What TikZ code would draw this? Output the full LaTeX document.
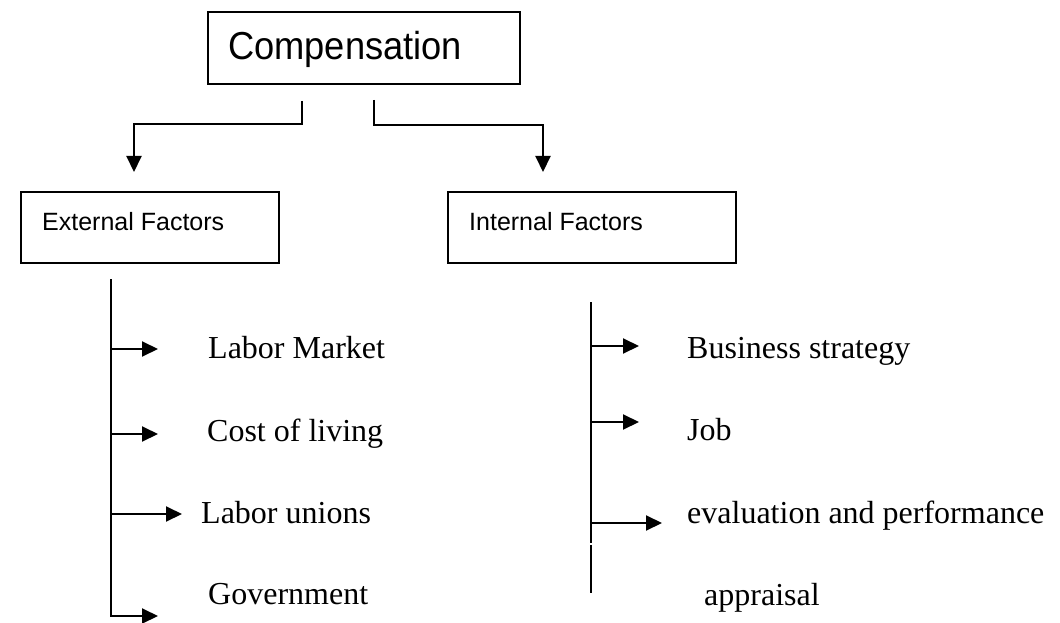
\documentclass[tikz,border=0pt]{standalone}
\usepackage{fontspec}
\setmainfont{Liberation Serif}
\newfontfamily\arialf{Liberation Sans}
\newfontfamily\arialn[FakeStretch=0.93]{Liberation Sans}
\usetikzlibrary{arrows.meta}

\tikzset{
    caja/.style={draw, line width=1.7pt, rectangle, inner sep=0pt, anchor=north west},
    linea/.style={line width=2pt},
    flecha/.style={line width=2pt, -{Triangle[length=16pt,width=15pt]}},
    titulo/.style={font=\arialn\fontsize{39}{46}\selectfont, anchor=base west, inner sep=0pt},
    factor/.style={font=\arialf\fontsize{25}{30}\selectfont, anchor=base west, inner sep=0pt},
    elemento/.style={font=\fontsize{32}{38}\selectfont, anchor=base west, inner sep=0pt}
}

\begin{document}
\begin{tikzpicture}[x=1pt, y=-1pt]
        % Fija el marco del dibujo.
        \useasboundingbox (0,0) rectangle (1060,623);

        % Dibuja la caja principal.
        \node[caja, minimum width=312pt, minimum height=72pt] (comp) at (207,11) {};
        \node[titulo] (compT) at ([shift={(21,49)}]comp.north west) {Compensation};

        % Dibuja las cajas de factores externos e internos.
        \node[caja, minimum width=258pt, minimum height=71pt] (ext) at (20,191) {};
        \node[factor] (extT) at ([shift={(22,39)}]ext.north west) {External Factors};
        \node[caja, minimum width=288pt, minimum height=71pt] (int) at (447,191) {};
        \node[factor] (intT) at ([shift={(22,39)}]int.north west) {Internal Factors};

        % Une la caja principal con las dos ramas.
        \coordinate (izq) at (302,101);
        \coordinate (izqF) at (134,172);
        \coordinate (der) at (374,100);
        \coordinate (derF) at (543,172);
        \draw[flecha] (izq) -- ++(0,23) -| (izqF);
        \draw[flecha] (der) -- ++(0,25) -| (derF);

        % Lista de factores externos.
        \coordinate (e0) at (111,279);
        \coordinate (e1) at (111,617);
        \draw[linea] (e0) -- (e1);
        \foreach \y/\l in {349/47, 434/47, 514/71}
            \draw[flecha] (e0 |- 0,\y) -- ++(\l,0);
        \draw[flecha] ([yshift=1pt]e1) -- ++(47,0);
        \node[elemento] (lm) at (208,358) {Labor Market};
        \node[elemento] (cl) at (207,441) {Cost of living};
        \node[elemento] (lu) at (201,523) {Labor unions};
        \node[elemento] (gov) at (208,604) {Government};

        % Lista de factores internos (la linea tiene un corte).
        \coordinate (i0) at (591,302);
        \coordinate (i1) at (591,543);
        \coordinate (i2) at (591,545);
        \coordinate (i3) at (591,593);
        \draw[linea] (i0) -- (i1);
        \draw[linea] (i2) -- (i3);
        \foreach \y/\l in {346/48, 422/48, 523/71}
            \draw[flecha] (i0 |- 0,\y) -- ++(\l,0);
        \node[elemento] (bs) at (687,358) {Business strategy};
        \node[elemento] (job) at (687,440) {Job};
        \node[elemento] (ev) at (687,523) {evaluation and performance};
        \node[elemento] (ap) at (704,605) {appraisal};
\end{tikzpicture}
\end{document}
